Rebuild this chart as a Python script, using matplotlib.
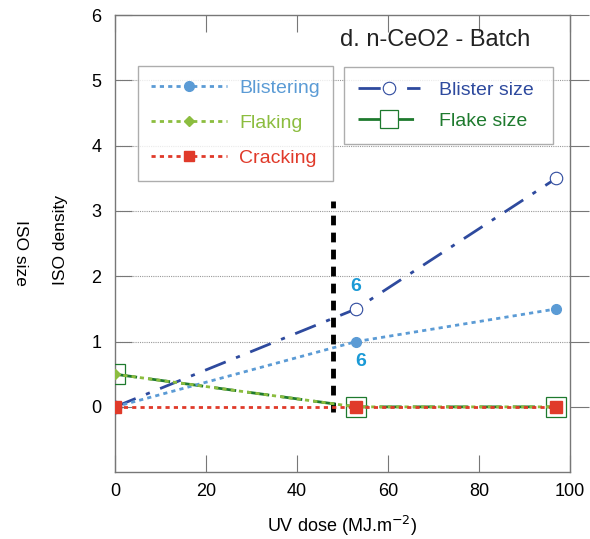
import matplotlib
matplotlib.use("Agg")
import matplotlib.pyplot as plt
from matplotlib.lines import Line2D

plt.rcParams['font.family'] = ['Liberation Sans', 'DejaVu Sans']

# data
uv_dose = [0, 53, 97]
blistering = [0, 1, 1.5]
flaking = [0.5, 0, 0]
cracking = [0, 0, 0]
blister_size = [0, 1.5, 3.5]
flake_size = [0.5, 0, 0]

threshold_x = 48
threshold_y = [-0.08, 3.15]
note_pts = [(53, 1.85), (54, 0.7)]
note_text = "6"

c_blist = '#5b9bd5'
c_flak = '#8cbd3f'
c_crack = '#e03a2a'
c_bsize = '#2e4a9e'
c_fsize = '#1e7a2e'
c_note = '#1a9ad6'

fig = plt.figure(figsize=(5.9, 5.39), dpi=100)
ax = fig.add_axes([0.195, 0.124, 0.771, 0.848])

ax.set_xlim(0, 100)
ax.set_ylim(-1, 6)
for y in [1, 2, 3, 4, 5]:
    ax.axhline(y, color='#999999', lw=0.8, ls=(0, (1, 1)), zorder=0)

ax.plot(uv_dose, blister_size, color=c_bsize, lw=2, ls=(0, (8, 4, 1.5, 4)),
        marker='o', ms=9, mfc='white', mec=c_bsize, mew=0.8, zorder=3)
ax.plot(uv_dose, flake_size, color=c_fsize, lw=2, ls=(0, (8, 4)),
        marker='s', ms=15, mfc='none', mec=c_fsize, mew=0.9, zorder=3)
ax.plot(uv_dose, blistering, color=c_blist, lw=2, ls=(0, (1.5, 1.5)),
        marker='o', ms=7, mfc=c_blist, mec=c_blist, zorder=4)
ax.plot(uv_dose, flaking, color=c_flak, lw=2, ls=(0, (1.5, 1.5)),
        marker='D', ms=5, mfc=c_flak, mec=c_flak, zorder=4)
ax.plot(uv_dose, cracking, color=c_crack, lw=2, ls=(0, (1.5, 1.5)),
        marker='s', ms=8, mfc=c_crack, mec=c_crack, zorder=5)

ax.plot([threshold_x, threshold_x], threshold_y, color='black', lw=3.5,
        ls=(0, (2, 1.5)), zorder=2)

for x, y in note_pts:
    ax.text(x, y, note_text, color=c_note, fontsize=14, fontweight='bold',
            ha='center', va='center')

ax.text(0.912, 0.97, "d. n-CeO2 - Batch", transform=ax.transAxes,
        ha='right', va='top', fontsize=17, color='#222222')

ax.set_xticks([0, 20, 40, 60, 80, 100])
ax.set_yticks([0, 1, 2, 3, 4, 5, 6])
ax.tick_params(axis='x', direction='in', length=12, labelsize=13, pad=8,
               top=True, color='#777777')
ax.tick_params(axis='y', direction='in', length=12, labelsize=13, pad=10,
               color='#777777')
for s in ax.spines.values():
    s.set_color('#777777')
    s.set_linewidth(1)

ax2 = ax.twinx()
ax2.set_ylim(ax.get_ylim())
ax2.set_yticks([0, 1, 2, 3, 4, 5, 6])
ax2.tick_params(axis='y', direction='out', length=14, labelsize=13, pad=2,
                color='#777777')
for s in ax2.spines.values():
    s.set_visible(False)

ax.set_xlabel("UV dose (MJ.m$^{-2}$)", fontsize=13, labelpad=10)
fig.text(0.102, 0.555, "ISO density", rotation=90, ha='center', va='center', fontsize=12.5)
fig.text(0.035, 0.53, "ISO size", rotation=270, ha='center', va='center', fontsize=12.5)

h1 = [Line2D([], [], color=c_blist, lw=2, ls=(0, (1.5, 1.5)), marker='o', ms=7),
      Line2D([], [], color=c_flak, lw=2, ls=(0, (1.5, 1.5)), marker='D', ms=5),
      Line2D([], [], color=c_crack, lw=2, ls=(0, (1.5, 1.5)), marker='s', ms=7)]
leg1 = ax.legend(h1, ["Blistering", "Flaking", "Cracking"], loc='upper left',
                 bbox_to_anchor=(0.05, 0.889), fontsize=14, frameon=True,
                 fancybox=False, edgecolor='#999999', handlelength=3.9,
                 handletextpad=0.6, labelspacing=0.9, borderpad=0.7,
                 borderaxespad=0)
for t, c in zip(leg1.get_texts(), [c_blist, c_flak, c_crack]):
    t.set_color(c)
leg1.get_frame().set_linewidth(1)
ax.add_artist(leg1)

h2 = [Line2D([], [], color=c_bsize, lw=2, ls=(0, (8, 4, 1.5, 4)), marker='o', ms=9,
             mfc='white', mew=0.8),
      Line2D([], [], color=c_fsize, lw=2, ls=(0, (8, 4)), marker='s', ms=13,
             mfc='white', mew=0.9)]
leg2 = ax.legend(h2, ["Blister size", "Flake size"], loc='upper left',
                 bbox_to_anchor=(0.503, 0.786, 0.459, 0.1), mode='expand',
                 fontsize=14, frameon=True,
                 fancybox=False, edgecolor='#999999', handlelength=3.2,
                 handletextpad=0.95, labelspacing=0.7, borderpad=0.72,
                 borderaxespad=0)
for t, c in zip(leg2.get_texts(), [c_bsize, c_fsize]):
    t.set_color(c)
leg2.get_frame().set_linewidth(1)

fig.savefig("out.png", dpi=100)
